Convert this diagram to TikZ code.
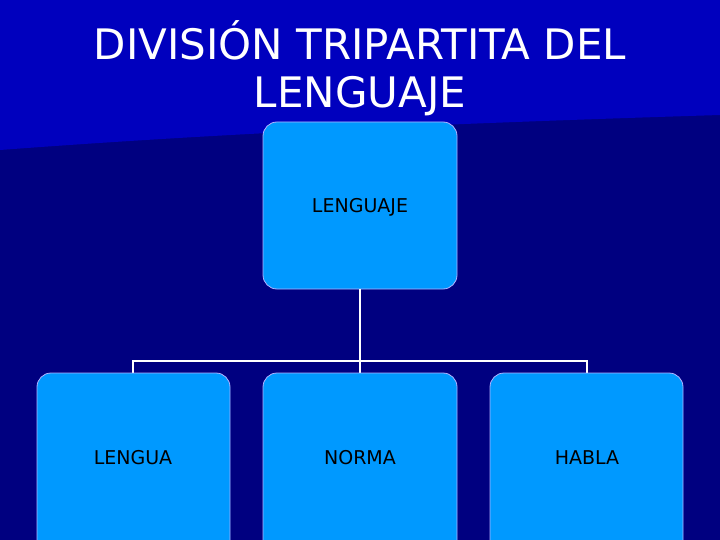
\documentclass[tikz,border=0pt]{standalone}
\usepackage{fontspec}
\setmainfont{DejaVu Sans}
\definecolor{bgdark}{RGB}{0,0,128}
\definecolor{bglight}{RGB}{0,0,190}
\definecolor{boxfill}{RGB}{0,153,255}
\begin{document}
\begin{tikzpicture}[x=1pt,y=-1pt,
  box/.style={draw=white!70!blue,line width=0.8pt,fill=boxfill,rounded corners=14pt,inner sep=0pt},
  lab/.style={font=\fontsize{19}{22}\selectfont,text=black},
  conn/.style={draw=white,line width=2.2pt}]
\useasboundingbox (0,0) rectangle (720,540);
\clip (0,0) rectangle (720,540);
\fill[bgdark] (0,0) rectangle (720,540);
\fill[bglight] (0,0) -- (720,0) -- (720,115) .. controls (400,125) and (200,135) .. (0,150) -- cycle;
\node[text=white,font=\fontsize{42}{48}\selectfont,align=center] (title) at (360,68) {DIVISIÓN TRIPARTITA DEL\\LENGUAJE};
\path[box] (263,122) rectangle (457,289);
\node[lab] (top) at (360,207) {LENGUAJE};
\coordinate (t) at (360,289);
\coordinate (j) at (360,361);
\coordinate (l) at (133,361);
\coordinate (r) at (587,361);
\coordinate (lb) at (133,373);
\coordinate (mb) at (360,373);
\coordinate (rb) at (587,373);
\draw[conn] (t) -- (j);
\draw[conn] (lb) -- (l) -- (r) -- (rb);
\draw[conn] (j) -- (mb);
\path[box] (37,373) rectangle (230,560);
\path[box] (263,373) rectangle (457,560);
\path[box] (490,373) rectangle (683,560);
\node[lab] (a) at (133,458) {LENGUA};
\node[lab] (b) at (360,458) {NORMA};
\node[lab] (c) at (587,458) {HABLA};
\end{tikzpicture}
\end{document}
